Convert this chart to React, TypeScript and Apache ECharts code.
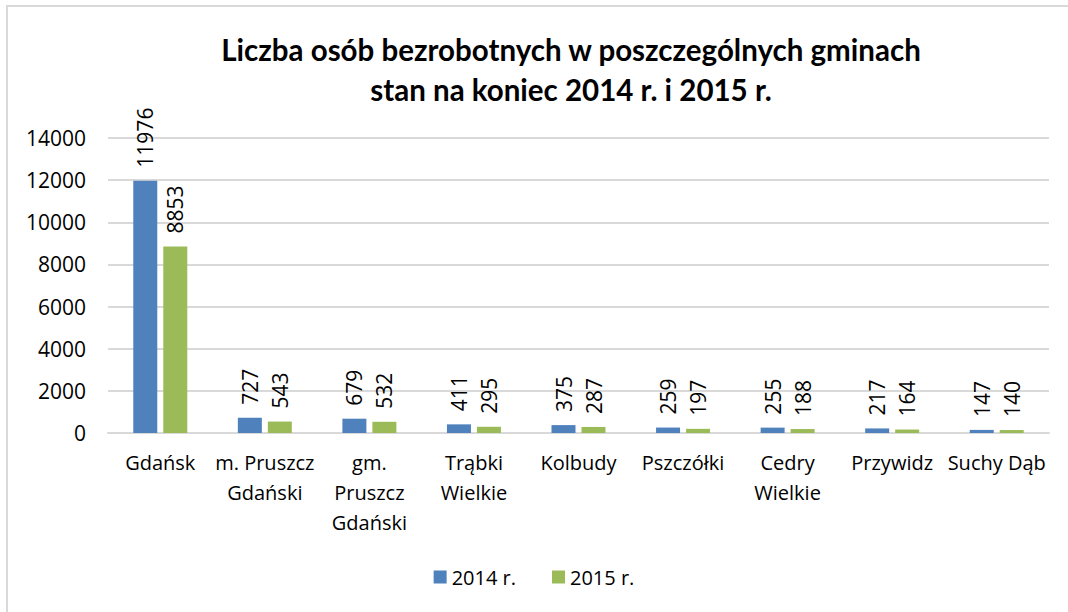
import React, { useEffect, useRef } from "react";
import * as echarts from "echarts";

const categories = [
  "Gdańsk",
  "m. Pruszcz\nGdański",
  "gm.\nPruszcz\nGdański",
  "Trąbki\nWielkie",
  "Kolbudy",
  "Pszczółki",
  "Cedry\nWielkie",
  "Przywidz",
  "Suchy Dąb",
];
const values2014 = [11976, 727, 679, 411, 375, 259, 255, 217, 147];
const values2015 = [8853, 543, 532, 295, 287, 197, 188, 164, 140];
const seriesNames = ["2014 r.", "2015 r."];
const titleLines = "Liczba osób bezrobotnych w poszczególnych gminach\nstan na koniec 2014 r. i 2015 r.";

const FONT = "'Open Sans', sans-serif";

export default function App() {
  const ref = useRef<HTMLDivElement>(null);
  useEffect(() => {
    if (!ref.current) return;
    const chart = echarts.init(ref.current, undefined, { renderer: "svg" });
    const labelOpt = {
      show: true,
      position: "top" as const,
      rotate: 90,
      align: "left" as const,
      verticalAlign: "middle" as const,
      distance: 13,
      color: "#000",
      fontSize: 21,
      fontFamily: FONT,
    };
    chart.setOption({
      animation: false,
      backgroundColor: "#fff",
      title: {
        text: titleLines,
        left: 566,
        top: 24,
        textAlign: "center",
        textStyle: {
          fontFamily: "Lato, sans-serif",
          fontWeight: "bold",
          fontSize: 29.5,
          lineHeight: 40,
          color: "#000",
        },
      },
      graphic: [
        {
          type: "rect",
          shape: { x: 7, y: 6, width: 1100, height: 700 },
          style: { fill: "none", stroke: "#d9d9d9", lineWidth: 2 },
          silent: true,
        },
      ],
      legend: {
        bottom: 20,
        left: "center",
        itemWidth: 13,
        itemHeight: 13,
        itemGap: 36,
        icon: "rect",
        textStyle: { fontFamily: FONT, fontSize: 20, color: "#000" },
        data: seriesNames,
      },
      grid: { left: 108, right: 19, top: 138, bottom: 179 },
      xAxis: {
        type: "category",
        data: categories,
        axisTick: { show: false },
        axisLine: { lineStyle: { color: "#d9d9d9", width: 2 } },
        axisLabel: {
          interval: 0,
          margin: 14,
          fontFamily: FONT,
          fontSize: 20,
          lineHeight: 30,
          color: "#000",
        },
      },
      yAxis: {
        type: "value",
        min: 0,
        max: 14000,
        interval: 2000,
        axisLabel: {
          fontFamily: FONT,
          fontSize: 21,
          color: "#000",
          margin: 22,
          formatter: (v: number) => String(v),
        },
        splitLine: { lineStyle: { color: "#d9d9d9", width: 2 } },
        axisLine: { show: false },
        axisTick: { show: false },
      },
      series: [
        {
          name: seriesNames[0],
          type: "bar",
          data: values2014,
          barWidth: 24,
          barGap: "25%",
          itemStyle: { color: "#4F81BD" },
          label: labelOpt,
        },
        {
          name: seriesNames[1],
          type: "bar",
          data: values2015,
          barWidth: 24,
          barGap: "25%",
          itemStyle: { color: "#9BBB59" },
          label: labelOpt,
        },
      ],
    });
    return () => chart.dispose();
  }, []);
  return (
    <div
      ref={ref}
      style={{ position: "absolute", left: 0, top: 0, width: 1068, height: 612 }}
    />
  );
}
